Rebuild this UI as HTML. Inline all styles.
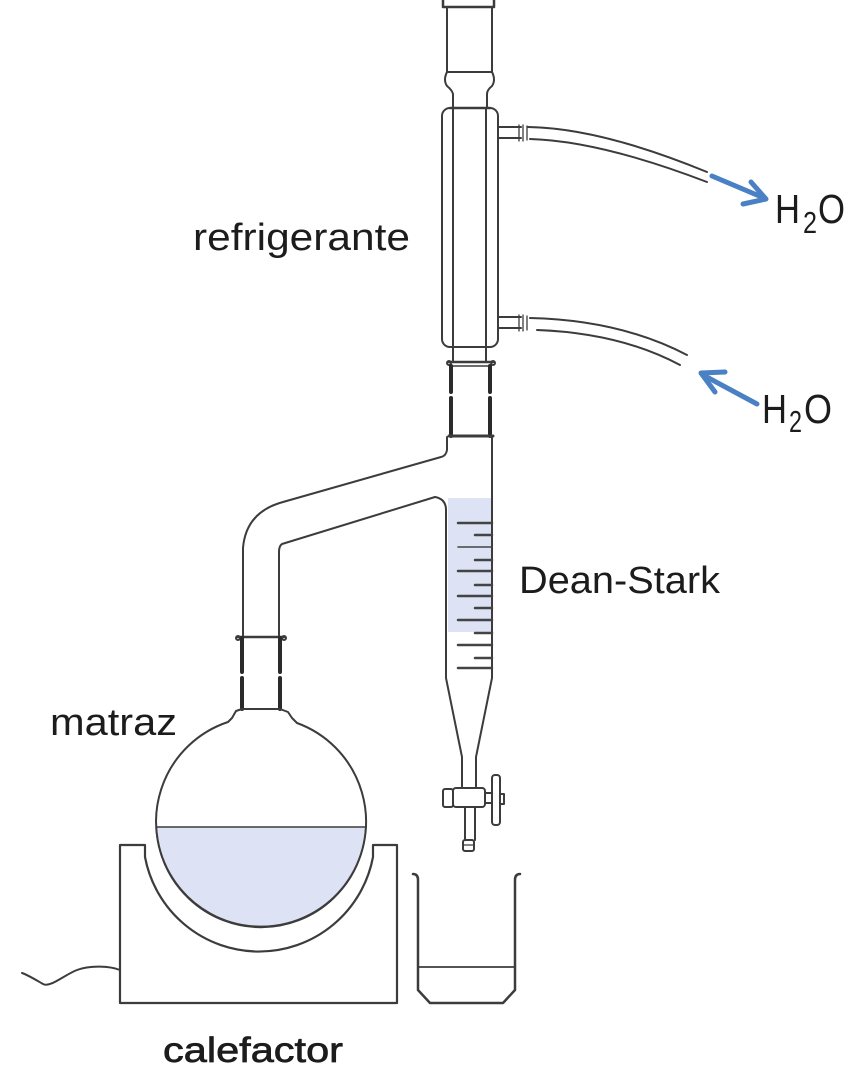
<!DOCTYPE html>
<html>
<head>
<meta charset="utf-8">
<style>
html,body{margin:0;padding:0;background:#fff;}
svg{display:block;}
text{font-family:"Liberation Sans",sans-serif;fill:#1c1c1c;}
</style>
</head>
<body>
<svg width="866" height="1068" viewBox="0 0 866 1068" xmlns="http://www.w3.org/2000/svg">
<rect width="866" height="1068" fill="#fff"/>

<g fill="none" stroke="#3c3c3c" stroke-width="2" stroke-linejoin="round" stroke-linecap="round">
  <!-- top joint -->
  <path d="M443,0 L443,7 L494,7 L494,0" stroke-width="2.5"/>
  <path d="M447,7 L447,72 L492,72 L492,7"/>
  <path d="M447,72 Q443,80 447,86 Q452,90 453,94 L453,108"/>
  <path d="M492,72 Q496,80 492,86 Q487,90 487,94 L487,108"/>
  <!-- condenser jacket -->
  <rect x="442" y="108" width="56" height="239" rx="8" ry="8"/>
  <line x1="450" y1="108" x2="490" y2="108" stroke-width="2.5"/>
  <line x1="453" y1="108" x2="453" y2="362"/>
  <line x1="486" y1="108" x2="486" y2="362"/>
  <!-- side arms -->
  <path d="M498,127 L521,127 M498,138 L521,138"/>
  <path d="M498,317 L521,317 M498,328 L521,328"/>
  <!-- hose barbs -->
  <path d="M519,125 L519,141 M523,125 L523,141 M527,126 L527,140" stroke-width="1.3"/>
  <path d="M519,315 L519,331 M523,315 L523,331 M527,316 L527,330" stroke-width="1.3"/>
  <!-- hoses -->
  <path d="M528,127 Q600,128 707,172"/>
  <path d="M530,139 Q600,141 707,182"/>
  <path d="M530,318 Q620,320 687,355"/>
  <path d="M537,330 Q620,333 680,365"/>

  <!-- lower condenser joint -->
  <line x1="449" y1="362" x2="493" y2="362" stroke-width="2.5"/>
  <line x1="451" y1="366" x2="491" y2="366" stroke-width="1.5"/>
  <circle cx="449" cy="363" r="2"/>
  <circle cx="493" cy="363" r="2"/>
  <path d="M451,366 L451,392 M451,398 L451,436" stroke-width="4" stroke="#2a2a2a"/>
  <path d="M490,366 L490,392 M490,398 L490,436" stroke-width="4" stroke="#2a2a2a"/>
  <line x1="449" y1="436" x2="493" y2="436" stroke-width="3"/>

  <!-- Dean-Stark blue fill -->
  <rect x="448" y="498" width="43" height="134" fill="#dde2f4" stroke="none"/>

  <!-- Dean-Stark arm -->
  <path d="M447,437 L447,450 Q446,456 441,457 L283,502 Q246,512 243,548 L243,637"/>
  <path d="M435,497 L282,544 Q279,546 279,552 L279,637"/>
  <path d="M435,497 Q446,499 446,510 L446,678 L462,757 L462,788"/>
  <path d="M492,436 L492,678 L476,757 L476,788"/>

  <!-- graduations -->
  <g stroke-width="2.5" stroke="#444">
    <line x1="458" y1="523" x2="492" y2="523"/>
    <line x1="475" y1="535" x2="492" y2="535"/>
    <line x1="458" y1="547" x2="492" y2="547" stroke-width="1.6"/>
    <line x1="475" y1="560" x2="492" y2="560"/>
    <line x1="458" y1="571" x2="492" y2="571"/>
    <line x1="475" y1="585" x2="492" y2="585"/>
    <line x1="458" y1="596" x2="492" y2="596"/>
    <line x1="475" y1="608" x2="492" y2="608"/>
    <line x1="458" y1="620" x2="492" y2="620"/>
    <line x1="475" y1="633" x2="492" y2="633"/>
    <line x1="458" y1="645" x2="492" y2="645"/>
    <line x1="475" y1="658" x2="492" y2="658"/>
    <line x1="458" y1="668" x2="492" y2="668"/>
  </g>

  <!-- stopcock -->
  <rect x="453" y="788" width="32" height="19" rx="3" fill="#fff"/>
  <rect x="443" y="789" width="10" height="18" rx="2" fill="#fff"/>
  <rect x="485" y="793" width="7" height="10" fill="#fff"/>
  <rect x="492" y="775" width="8" height="50" rx="3" fill="#fff"/>
  <rect x="500" y="794" width="4" height="10" fill="#fff"/>
  <path d="M465,807 L465,840 M475,807 L475,840"/>
  <rect x="463" y="840" width="11" height="11" rx="2" fill="#fff"/>
  <line x1="463" y1="845" x2="474" y2="845" stroke-width="1.2"/>

  <!-- flask joint -->
  <line x1="238" y1="637" x2="284" y2="637" stroke-width="2.5"/>
  <circle cx="238" cy="638" r="2"/>
  <circle cx="284" cy="638" r="2"/>
  <path d="M242,638 L242,672 M242,678 L242,709" stroke-width="4" stroke="#2a2a2a"/>
  <path d="M280,638 L280,672 M280,678 L280,709" stroke-width="4" stroke="#2a2a2a"/>
  <line x1="242" y1="709" x2="280" y2="709" stroke-width="2"/>

  <!-- flask liquid -->
  <path d="M156.1,827 A105,105 0 0 0 365.9,827 Z" fill="#dde2f4" stroke-width="1.6"/>
  <!-- flask -->
  <path d="M242,709 L236,711 L232,718 L228,722 A105,105 0 1 0 297,723 L292,718 L288,712 L280,709" stroke-width="2"/>

  <!-- heater -->
  <path d="M120,845 L145,845 L145,857 A116,116 0 0 0 373,857 L373,845 L397,845 L397,1003 L120,1003 Z" stroke-width="2.2"/>
  <!-- cord -->
  <path d="M120,970 C110,966 90,965 77,970 S50,988 43,984 S28,975 22,973" stroke-width="2"/>

  <!-- beaker -->
  <path d="M413,874 Q418,874 418,880 L418,990 L430,1003 L503,1003 L515,990 L515,880 Q515,874 520,874" stroke-width="2.5"/>
  <line x1="418" y1="967" x2="515" y2="967" stroke-width="1.8"/>
</g>

<!-- blue arrows -->
<g fill="none" stroke="#4a80c4" stroke-width="5" stroke-linecap="round" stroke-linejoin="round">
  <line x1="712" y1="176" x2="764" y2="198"/>
  <polyline points="751,182 766,199 743,204"/>
  <line x1="757" y1="404" x2="703" y2="375"/>
  <polyline points="725,372 701,373 715,392"/>
</g>

<!-- labels -->
<text x="193" y="250" font-size="38" textLength="217" lengthAdjust="spacingAndGlyphs">refrigerante</text>
<text x="519" y="593" font-size="38" textLength="201" lengthAdjust="spacingAndGlyphs">Dean-Stark</text>
<text x="50" y="735" font-size="38" textLength="127" lengthAdjust="spacingAndGlyphs">matraz</text>
<text x="163" y="1062" font-size="35" textLength="180" lengthAdjust="spacingAndGlyphs" stroke="#1c1c1c" stroke-width="0.7">calefactor</text>

<text x="775" y="223" font-size="41" textLength="25" lengthAdjust="spacingAndGlyphs">H</text>
<text x="803" y="233" font-size="31" textLength="14" lengthAdjust="spacingAndGlyphs">2</text>
<text x="818" y="223" font-size="41" textLength="27" lengthAdjust="spacingAndGlyphs">O</text>

<text x="762" y="423" font-size="41" textLength="25" lengthAdjust="spacingAndGlyphs">H</text>
<text x="789" y="432" font-size="31" textLength="13" lengthAdjust="spacingAndGlyphs">2</text>
<text x="804" y="423" font-size="41" textLength="28" lengthAdjust="spacingAndGlyphs">O</text>
</svg>
</body>
</html>
